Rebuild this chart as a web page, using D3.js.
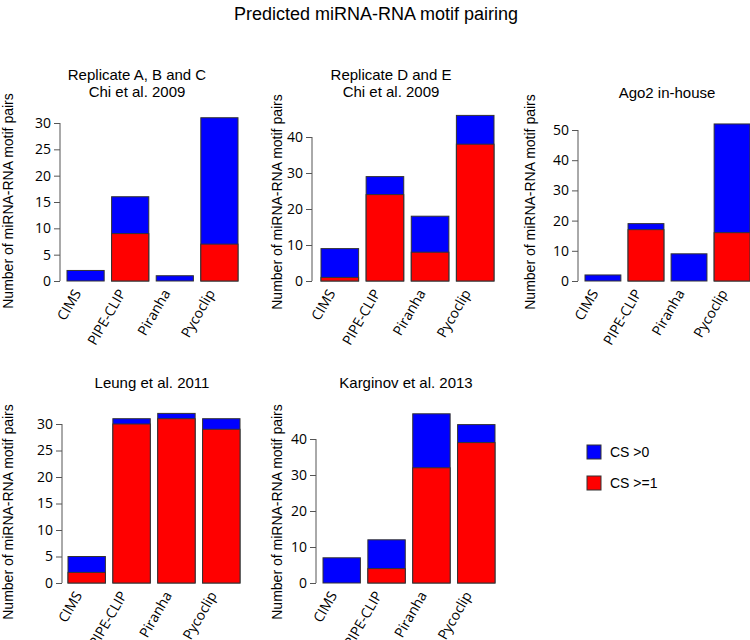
<!DOCTYPE html>
<html>
<head>
  <meta charset="utf-8">
  <title>Predicted miRNA-RNA motif pairing</title>
  <script src="https://d3js.org/d3.v7.min.js"></script>
  <style>
    body { margin: 0; background: #fff; }
    svg text { fill: #000; }
    .title, .ylab, .legend text { font-family: "Liberation Sans", Arial, sans-serif; }
    .axis text, .xlab { font-family: "Open Sans", sans-serif; font-size: 14px; }
    .axis text { fill: #000; }
    .axis path, .axis line { stroke: #555; }
    .bar { stroke: #333; stroke-width: 1px; }
  </style>
</head>
<body>
  <svg width="750" height="640"></svg>
  <script>
    var methods = ["CIMS", "PIPE-CLIP", "Piranha", "Pycoclip"];
    var legendLabels = ["CS >0", "CS >=1"];

    // total height of each bar (CS >0) and the red part (CS >=1)
    var repABC_cs0 = [2, 16, 1, 31],   repABC_cs1 = [0, 9, 0, 7];
    var repDE_cs0 = [9, 29, 18, 46],   repDE_cs1 = [1, 24, 8, 38];
    var ago2_cs0 = [2, 19, 9, 52],     ago2_cs1 = [0, 17, 0, 16];
    var leung_cs0 = [5, 31, 32, 31],   leung_cs1 = [2, 30, 31, 29];
    var karg_cs0 = [7, 12, 47, 44],    karg_cs1 = [0, 4, 32, 39];

    var titles = [
      ["Replicate A, B and C", "Chi et al. 2009"],
      ["Replicate D and E", "Chi et al. 2009"],
      ["Ago2 in-house"],
      ["Leung et al. 2011"],
      ["Karginov et al. 2013"]
    ];
    var tickMax = [30, 40, 50, 30, 40];
    var tickStep = [5, 10, 10, 5, 10];

    var series = [
      [repABC_cs0, repABC_cs1],
      [repDE_cs0, repDE_cs1],
      [ago2_cs0, ago2_cs1],
      [leung_cs0, leung_cs1],
      [karg_cs0, karg_cs1]
    ];

    // pixel layout of each panel
    var layout = [
      { ax: 60,  x0: 67,  x1: 238, base: 281, top: 123, tx: 137, ty: 80, lx: 8,   ly: 201 },
      { ax: 312, x0: 321, x1: 494, base: 281, top: 137, tx: 391, ty: 80, lx: 277, ly: 202 },
      { ax: 578, x0: 585, x1: 750, base: 281, top: 130, tx: 667, ty: 98, lx: 530, ly: 202 },
      { ax: 62,  x0: 68,  x1: 240, base: 583, top: 424, tx: 152, ty: 388, lx: 8,  ly: 512 },
      { ax: 316, x0: 323, x1: 495, base: 583, top: 439, tx: 406, ty: 388, lx: 277, ly: 512 }
    ];

    var blue = "#0000ff", red = "#ff0000";
    var svg = d3.select("svg");

    svg.append("text").attr("class", "title")
      .attr("x", 376).attr("y", 20)
      .attr("text-anchor", "middle").style("font-size", "18px")
      .text("Predicted miRNA-RNA motif pairing");

    series.forEach(function (s, i) {
      var L = layout[i];
      var g = svg.append("g");

      var x = d3.scaleBand().domain(methods).range([L.x0, L.x1])
        .paddingInner(0.2 / 1.2).paddingOuter(0);
      var y = d3.scaleLinear().domain([0, tickMax[i]]).range([L.base, L.top]);

      // blue = CS >0 total, red = CS >=1 drawn over it
      [[s[0], blue], [s[1], red]].forEach(function (layer) {
        var rows = methods.map(function (m, j) { return { m: m, v: layer[0][j] }; })
          .filter(function (d) { return d.v > 0; });
        g.selectAll(null).data(rows).enter().append("rect")
          .attr("class", "bar")
          .attr("x", function (d) { return x(d.m); })
          .attr("width", x.bandwidth())
          .attr("y", function (d) { return y(d.v); })
          .attr("height", function (d) { return y(0) - y(d.v); })
          .attr("fill", layer[1]);
      });

      var ticks = d3.range(0, tickMax[i] + 1, tickStep[i]);
      g.append("g").attr("class", "axis")
        .attr("transform", "translate(" + L.ax + ",0)")
        .call(d3.axisLeft(y).tickValues(ticks).tickSize(6).tickSizeOuter(0).tickPadding(3));
      g.select(".axis .domain").attr("d", "M0," + y(0) + "V" + y(tickMax[i]));

      methods.forEach(function (m) {
        var cx = x(m) + x.bandwidth() / 2 - 4;
        g.append("text").attr("class", "xlab")
          .attr("text-anchor", "end")
          .attr("transform", "translate(" + cx + "," + (L.base + 12) + ") rotate(-60)")
          .text(m);
      });

      titles[i].forEach(function (t, k) {
        g.append("text").attr("class", "title")
          .attr("x", L.tx).attr("y", L.ty + k * 17)
          .attr("text-anchor", "middle").style("font-size", "15px")
          .text(t);
      });

      g.append("text").attr("class", "ylab")
        .attr("transform", "translate(" + (L.lx + 5) + "," + L.ly + ") rotate(-90)")
        .attr("text-anchor", "middle").style("font-size", "14px")
        .text("Number of miRNA-RNA motif pairs");
    });

    var leg = svg.append("g").attr("class", "legend");
    [blue, red].forEach(function (c, k) {
      leg.append("rect").attr("x", 587).attr("y", 445 + k * 31)
        .attr("width", 14).attr("height", 14)
        .attr("fill", c).attr("stroke", "#333");
      leg.append("text").attr("x", 610).attr("y", 457 + k * 31)
        .style("font-size", "14px").text(legendLabels[k]);
    });
  </script>
</body>
</html>
